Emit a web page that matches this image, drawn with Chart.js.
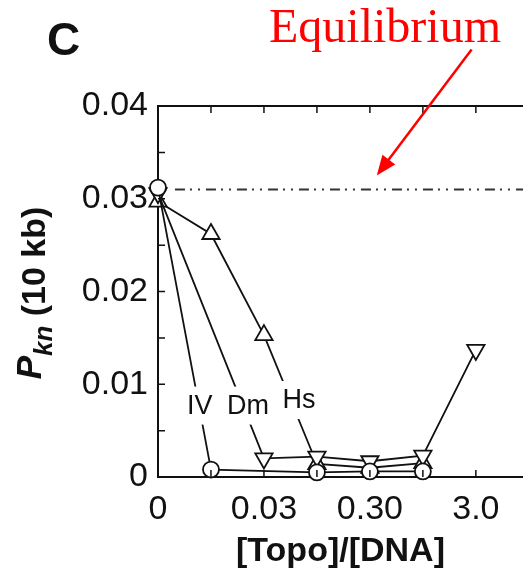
<!DOCTYPE html>
<html>
<head>
<meta charset="utf-8">
<script src="https://cdn.jsdelivr.net/npm/chart.js@4/dist/chart.umd.min.js"></script>
<style>
  html, body { margin: 0; padding: 0; background: #fff; overflow: hidden; }
</style>
</head>
<body>
<canvas id="pknChart" width="523" height="575"></canvas>
<script>
// [Topo]/[DNA] steps, only every other one carries a label
var xSteps = [0, 1, 2, 3, 4, 5, 6];
var xTickLabels = ['0', '', '0.03', '', '0.30', '', '3.0'];
var yTickLabels = ['0', '0.01', '0.02', '0.03', '0.04'];

// P_kn (10 kb) for each topoisomerase (null = no point at that step)
var seriesNames = ['IV', 'Dm', 'Hs'];
var ivValues = [0.0312, 0.0008, null, 0.0005, 0.0006, 0.0006, null];
var dmValues = [0.0306, null, 0.0020, 0.0022, 0.0017, 0.0023, 0.0137];
var hsValues = [0.0297, 0.0262, 0.0153, 0.0014, 0.0010, 0.0015, null];
var equilibrium = 0.0310;

var xMax = 6.89;

function toPoints(vals) {
  return xSteps.map(function(x, i) { return { x: x, y: vals[i] }; });
}

function series(label, vals, style, rot, r) {
  return {
    label: label,
    data: toPoints(vals),
    borderColor: '#111',
    borderWidth: 1.8,
    pointStyle: style,
    rotation: rot,
    pointRadius: r,
    pointBorderWidth: 1.8,
    pointBorderColor: '#111',
    pointBackgroundColor: '#fff',
    spanGaps: true,
    tension: 0,
    clip: false
  };
}

var decor = {
  id: 'decor',
  beforeDraw: function(chart) {
    var ctx = chart.ctx;
    ctx.save();
    ctx.fillStyle = '#fff';
    ctx.fillRect(0, 0, chart.width, chart.height);
    ctx.restore();
  },
  afterDatasetsDraw: function(chart) {
    // series labels sit on their lines and break them
    var ctx = chart.ctx, xs = chart.scales.x, ys = chart.scales.y;
    var spots = [[0.79, 0.0077], [1.7, 0.0077], [2.66, 0.0083]];
    ctx.save();
    ctx.font = '27px "Liberation Sans", Arial, sans-serif';
    ctx.textAlign = 'center';
    ctx.textBaseline = 'middle';
    seriesNames.forEach(function(name, i) {
      var px = xs.getPixelForValue(spots[i][0]);
      var py = ys.getPixelForValue(spots[i][1]);
      var w = ctx.measureText(name).width + 4;
      ctx.fillStyle = '#fff';
      ctx.fillRect(px - w / 2, py - 19, w, 38);
      ctx.fillStyle = '#111';
      ctx.fillText(name, px, py + 1);
    });
    ctx.restore();
  },
  afterDraw: function(chart) {
    var ctx = chart.ctx, xs = chart.scales.x, ys = chart.scales.y;
    var a = chart.chartArea;
    ctx.save();
    ctx.strokeStyle = '#111';
    ctx.lineWidth = 2;
    // top frame
    ctx.beginPath();
    ctx.moveTo(a.left, a.top);
    ctx.lineTo(a.right, a.top);
    ctx.stroke();
    // inward ticks
    ctx.lineWidth = 1.5;
    ctx.beginPath();
    xSteps.forEach(function(v) {
      var px = xs.getPixelForValue(v);
      ctx.moveTo(px, a.top); ctx.lineTo(px, a.top + 7);
      ctx.moveTo(px, a.bottom); ctx.lineTo(px, a.bottom - 7);
    });
    for (var k = 1; k < 8; k++) {
      var py = ys.getPixelForValue(k * 0.005);
      ctx.moveTo(a.left, py); ctx.lineTo(a.left + 7, py);
    }
    ctx.stroke();

    // y title: P_kn (10 kb)
    ctx.translate(37, 293);
    ctx.rotate(-Math.PI / 2);
    ctx.fillStyle = '#111';
    ctx.textBaseline = 'alphabetic';
    var fP = 'italic bold 35px "Liberation Sans", Arial, sans-serif';
    var fS = 'italic bold 26px "Liberation Sans", Arial, sans-serif';
    var fR = 'bold 34px "Liberation Sans", Arial, sans-serif';
    ctx.font = fP; var wP = ctx.measureText('P').width;
    ctx.font = fS; var wS = ctx.measureText('kn').width;
    ctx.font = fR; var wR = ctx.measureText(' (10 kb)').width;
    var x0 = -(wP + wS + wR) / 2;
    ctx.font = fP; ctx.fillText('P', x0, 4);
    ctx.font = fS; ctx.fillText('kn', x0 + wP, 15);
    ctx.font = fR; ctx.fillText(' (10 kb)', x0 + wP + wS, 8);
    ctx.setTransform(1, 0, 0, 1, 0, 0);

    // panel letter
    ctx.font = 'bold 46px "Liberation Sans", Arial, sans-serif';
    ctx.textAlign = 'left';
    ctx.fillText('C', 47, 55);

    // equilibrium note and arrow
    ctx.fillStyle = '#f00';
    ctx.strokeStyle = '#f00';
    ctx.font = '48px "Liberation Serif", "Times New Roman", serif';
    ctx.textAlign = 'center';
    ctx.fillText('Equilibrium', 385, 42);
    var tx = xs.getPixelForValue(4.13), ty = ys.getPixelForValue(0.0325);
    var sx = xs.getPixelForValue(5.92), sy = ys.getPixelForValue(0.0461);
    var ang = Math.atan2(ty - sy, tx - sx);
    ctx.lineWidth = 2.5;
    ctx.beginPath();
    ctx.moveTo(sx, sy);
    ctx.lineTo(tx - 14 * Math.cos(ang), ty - 14 * Math.sin(ang));
    ctx.stroke();
    ctx.beginPath();
    ctx.moveTo(tx, ty);
    ctx.lineTo(tx - 20 * Math.cos(ang) + 8 * Math.sin(ang), ty - 20 * Math.sin(ang) - 8 * Math.cos(ang));
    ctx.lineTo(tx - 20 * Math.cos(ang) - 8 * Math.sin(ang), ty - 20 * Math.sin(ang) + 8 * Math.cos(ang));
    ctx.closePath();
    ctx.fill();
    ctx.restore();
  }
};

var ctx = document.getElementById('pknChart').getContext('2d');
var pknChart = new Chart(ctx, {
  type: 'line',
  data: {
    datasets: [
      {
        label: 'Equilibrium',
        data: [{ x: 0.32, y: equilibrium }, { x: xMax, y: equilibrium }],
        borderColor: '#333',
        borderWidth: 1.8,
        borderDash: [10, 5, 2, 6, 2, 6],
        pointRadius: 0
      },
      series('IV', ivValues, 'circle', 0, 8),
      series('Dm', dmValues, 'triangle', 180, 10),
      series('Hs', hsValues, 'triangle', 0, 10)
    ]
  },
  options: {
    responsive: false,
    animation: false,
    layout: { autoPadding: false, padding: { top: 106, left: 0, right: 0, bottom: 0 } },
    plugins: { legend: { display: false }, tooltip: { enabled: false } },
    scales: {
      x: {
        type: 'linear',
        min: 0,
        max: xMax,
        afterFit: function(s) { s.height = 98; s.paddingRight = 0; s.paddingLeft = 0; },
        border: { color: '#111', width: 2 },
        grid: { drawOnChartArea: false, drawTicks: false },
        ticks: {
          stepSize: 1,
          includeBounds: false,
          autoSkip: false,
          maxRotation: 0,
          padding: 12,
          color: '#111',
          font: { family: '"Liberation Sans", Arial, sans-serif', size: 34 },
          callback: function(v) { return xTickLabels[v] || ''; }
        },
        title: {
          display: true,
          text: '[Topo]/[DNA]',
          color: '#111',
          font: { family: '"Liberation Sans", Arial, sans-serif', size: 34, weight: 'bold' },
          padding: { top: 0, bottom: 3 }
        }
      },
      y: {
        min: 0,
        max: 0.04,
        afterFit: function(s) { s.width = 158; },
        border: { color: '#111', width: 2 },
        grid: { drawOnChartArea: false, drawTicks: false },
        ticks: {
          stepSize: 0.005,
          autoSkip: false,
          padding: 10,
          color: '#111',
          font: { family: '"Liberation Sans", Arial, sans-serif', size: 34 },
          callback: function(v) {
            var k = Math.round(v / 0.005);
            return k % 2 ? '' : yTickLabels[k / 2];
          }
        }
      }
    }
  },
  plugins: [decor]
});
</script>
</body>
</html>
